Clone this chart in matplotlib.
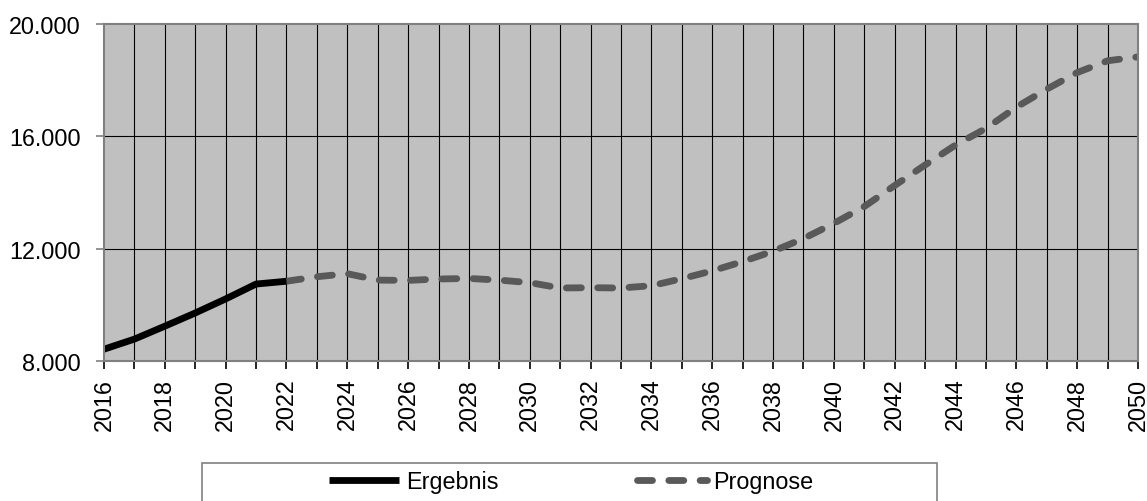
import matplotlib
matplotlib.use("Agg")
import matplotlib.pyplot as plt
from matplotlib.patches import Rectangle
from matplotlib.ticker import FuncFormatter

plt.rcParams['font.family'] = ['Liberation Sans', 'DejaVu Sans']

years_erg = [2016, 2017, 2018, 2019, 2020, 2021, 2022]
erg = [8420, 8780, 9240, 9710, 10210, 10740, 10840]

years_prog = list(range(2022, 2051))
prog = [10840, 11000, 11110, 10880, 10870, 10920, 10940, 10880, 10790, 10600,
        10610, 10600, 10680, 10930, 11210, 11540, 11910, 12360, 12900, 13500,
        14250, 14980, 15690, 16280, 17040, 17680, 18270, 18690, 18830]

y_ticks = [8000, 12000, 16000, 20000]
x_label_years = list(range(2016, 2051, 2))

W, H = 1147, 502
fig = plt.figure(figsize=(W / 100, H / 100), dpi=100)
ax = fig.add_axes([104 / W, 1 - 362 / H, (1138 - 104) / W, (362 - 25) / H])
ax.set_facecolor('#C0C0C0')

ax.set_xlim(2016, 2050)
ax.set_ylim(8000, 20000)

# grid
for yr in range(2017, 2050):
    ax.axvline(yr, color='#000000', lw=0.8, zorder=1)
for yv in y_ticks[1:-1]:
    ax.axhline(yv, color='#000000', lw=0.8, zorder=1)

ax.plot(years_prog, prog, color='#595959', lw=4.9, dashes=[2.2, 2.4],
        dash_capstyle='round', solid_capstyle='round', zorder=3, label='Prognose')
ax.plot(years_erg, erg, color='#000000', lw=4.9, solid_capstyle='butt',
        zorder=4, label='Ergebnis')

for s in ax.spines.values():
    s.set_color('#808080')
    s.set_linewidth(1.5)
    s.set_zorder(5)

ax.set_yticks(y_ticks)
ax.yaxis.set_major_formatter(FuncFormatter(lambda v, p: f"{int(v):,}".replace(",", ".")))
ax.set_xticks(list(range(2016, 2051)))
ax.set_xticklabels([str(y) if y in x_label_years else '' for y in range(2016, 2051)],
                   rotation=90)
ax.tick_params(axis='y', length=6, width=1.2, color='#808080', pad=11, labelsize=16.8)
ax.tick_params(axis='x', length=6, width=1.2, color='#000000', pad=6, labelsize=16.8)

# legend box
rect = Rectangle((201.7 / W, 1 - 520 / H), (936.7 - 201.7) / W, (520 - 464.3) / H,
                 transform=fig.transFigure, facecolor='white', edgecolor='#808080',
                 lw=1.2, clip_on=False)
fig.patches.append(rect)

handles, labels = ax.get_legend_handles_labels()
order = [1, 0]
leg = fig.legend([handles[i] for i in order], [labels[i] for i in order],
                 loc='center', bbox_to_anchor=(571.5 / W, 1 - 483 / H),
                 ncol=2, frameon=False, fontsize=16.8, handlelength=3.0,
                 handletextpad=0.3, columnspacing=5.9, borderpad=0)

fig.savefig('out.png', dpi=100)
